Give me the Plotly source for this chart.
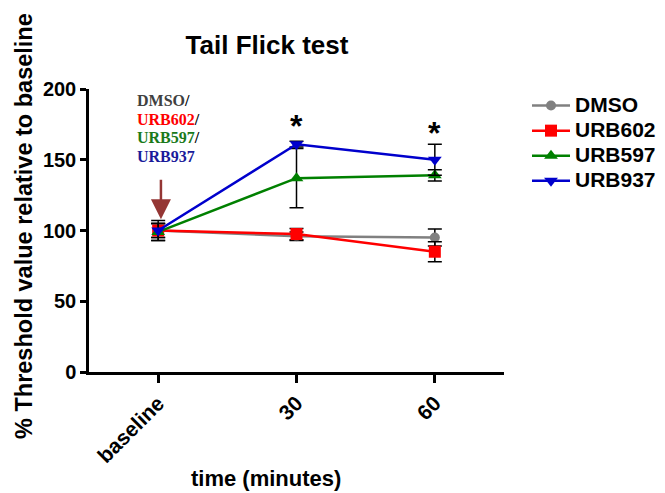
import plotly.graph_objects as go

categories = ["baseline", "30", "60"]
series_names = ["DMSO", "URB602", "URB597", "URB937"]
dmso = [100, 96, 95]
dmso_err = [5, 3, 6]
urb602 = [100, 97.5, 85]
urb602_err = [5, 4, 7]
urb597 = [99, 137, 139]
urb597_err = [6, 21, 4]
urb937 = [100, 161, 150]
urb937_err = [7, 2, 11]
y_ticks = [0, 50, 100, 150, 200]
star_positions = ["30", "60"]
star_values = [174, 169]
label_words = ["DMSO", "URB602", "URB597", "URB937"]

values = [dmso, urb602, urb597, urb937]
errors = [dmso_err, urb602_err, urb597_err, urb937_err]
colors = ["#808080", "#ff0000", "#008000", "#0000cc"]
label_colors = ["#404040", "#ff0000", "#1a7a1a", "#1a1a9a"]
symbols = ["circle", "square", "triangle-up", "triangle-down"]
sizes = [10, 12, 12, 12]

OFF = 8  # page body margin
W, H = 665 - OFF, 493 - OFF
L, T = 89 - OFF, 89 - OFF
R, B = 665 - 504, 493 - 372
PW, PH = W - L - R, H - T - B


def px_to_paper(px, py):
    # px, py in reference (window) pixels
    return (px - OFF - L) / PW, (H - B - (py - OFF)) / PH


fig = go.Figure()
xs = [0, 1, 2]
for name, v, e, c, s, sz in zip(series_names, values, errors, colors, symbols, sizes):
    fig.add_trace(go.Scatter(
        x=xs, y=v, name="<b><span style='font-size:21px'>%s</span></b>" % name,
        mode="lines+markers",
        line=dict(color=c, width=2.5),
        marker=dict(color=c, symbol=s, size=sz),
        error_y=dict(type="data", array=e, visible=True, color="black", thickness=1.5, width=7),
    ))

for cat, val in zip(star_positions, star_values):
    fig.add_annotation(x=categories.index(cat), y=val, text="<b>*</b>", showarrow=False,
                       font=dict(size=32, color="black", family="Liberation Sans"), yanchor="middle")

# arrow
fig.add_annotation(x=0.02, y=108, ax=0.02, ay=137, xref="x", yref="y", axref="x", ayref="y",
                   text="", showarrow=True, arrowhead=2, arrowsize=1.6, arrowwidth=2.5,
                   arrowcolor="#943634")

# multi-colour label, one line each
label_y_px = [101, 119.3, 137.6, 156]
for i, (word, col, ypx) in enumerate(zip(label_words, label_colors, label_y_px)):
    slash = "/" if i < len(label_words) - 1 else ""
    xp, yp = px_to_paper(135, ypx)
    fig.add_annotation(x=xp, y=yp, xref="paper", yref="paper",
                       text="<b><span style='color:%s'>%s</span>%s</b>" % (col, word, slash),
                       showarrow=False, xanchor="left", yanchor="middle", align="left",
                       font=dict(size=16, color="black", family="Liberation Serif"))

xp, yp = px_to_paper(266, 478)
fig.add_annotation(x=xp, y=yp, xref="paper", yref="paper", text="<b>time (minutes)</b>",
                   showarrow=False, yanchor="middle",
                   font=dict(size=22, color="black", family="Liberation Sans"))
xp, yp = px_to_paper(24, 226)
fig.add_annotation(x=xp, y=yp, xref="paper", yref="paper",
                   text="<b>% Threshold value relative to baseline</b>", textangle=-90,
                   showarrow=False, xanchor="center", yanchor="middle",
                   font=dict(size=23.5, color="black", family="Liberation Sans"))

fig.update_layout(
    width=W, height=H,
    margin=dict(l=L, r=R, t=T, b=B, autoexpand=False),
    paper_bgcolor="white", plot_bgcolor="white",
    title=dict(text="<b>Tail Flick test</b>", x=(267 - OFF) / W, xanchor="center",
               y=1 - (45 - OFF) / H, yanchor="middle",
               font=dict(size=26, color="black", family="Liberation Sans")),
    font=dict(family="Liberation Sans", color="black"),
    xaxis=dict(range=[-0.5, 2.5], tickvals=xs, ticktext=["<b>%s</b>" % c for c in categories],
               tickangle=-45, showline=True, linecolor="black", linewidth=2.5, ticks="outside",
               ticklen=8, tickwidth=2.5, tickcolor="black", showgrid=False, zeroline=False,
               automargin=False, tickfont=dict(size=21, color="black")),
    yaxis=dict(range=[0, 200], tickvals=y_ticks, ticktext=["<b>%d</b>" % t for t in y_ticks],
               showline=True, linecolor="black", linewidth=2.5, ticks="outside", ticklen=6,
               tickwidth=2.5, tickcolor="black", showgrid=False, zeroline=False,
               automargin=False, tickfont=dict(size=20, color="black")),
    legend=dict(x=px_to_paper(527, 0)[0], y=px_to_paper(0, 88)[1], xanchor="left", yanchor="top",
                bgcolor="rgba(0,0,0,0)",
                font=dict(size=17, color="black", family="Liberation Sans"), itemwidth=38,
                tracegroupgap=0, traceorder="normal"),
    showlegend=True,
)
fig.write_html("out.html")
